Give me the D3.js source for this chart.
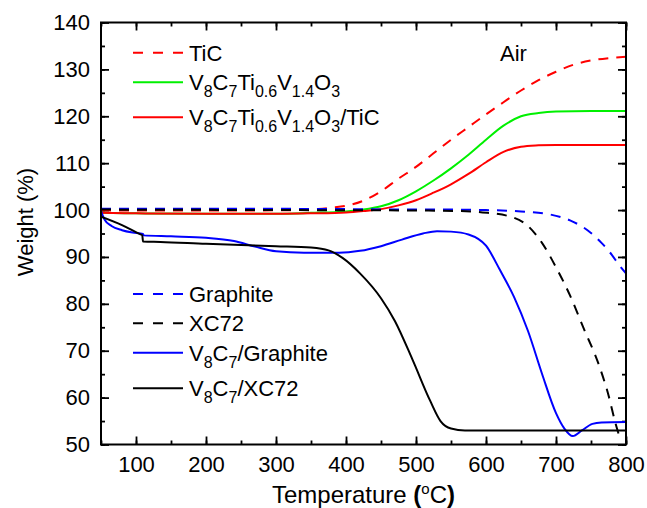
<!DOCTYPE html>
<html>
<head>
  <meta charset="UTF-8">
  <script src="https://d3js.org/d3.v7.min.js"></script>
  <style>
    body { margin: 0; background: #fff; }
    text { font-family: "Liberation Sans", Arial, sans-serif; fill: #000; }
    .axis line { stroke: #000; stroke-width: 1.8; }
    .axis .domain { stroke: none; }
  </style>
</head>
<body>
<svg id="chart" width="647" height="508"></svg>
<script>
  // data (temperature in oC, weight in %)
  const tic = [[50,99.9],[150,99.9],[250,99.9],[330,100.0],[360,100.2],[380,100.5],[400,100.9],[425,102.0],[450,104.0],[475,106.7],[500,109.2],[525,112.1],[550,115.0],[575,117.7],[600,120.4],[625,123.0],[650,125.5],[675,127.7],[700,129.5],[725,131.0],[750,131.9],[775,132.4],[800,132.7]];
  const v8c7TiVO = [[50,99.4],[100,99.3],[200,99.2],[300,99.2],[350,99.4],[400,99.7],[425,100.1],[450,100.8],[475,102.1],[500,104.0],[525,106.3],[550,108.9],[575,111.8],[600,115.0],[625,118.0],[650,120.0],[675,120.7],[700,121.0],[750,121.1],[800,121.1]];
  const v8c7TiVOTiC = [[50,99.4],[100,99.3],[200,99.2],[300,99.2],[350,99.3],[400,99.5],[425,99.8],[450,100.2],[475,101.0],[500,102.1],[525,103.7],[550,105.5],[575,107.7],[600,110.2],[625,112.4],[650,113.5],[675,113.8],[700,113.9],[800,113.9]];
  const graphite = [[50,100.3],[200,100.3],[400,100.2],[500,100.1],[550,100.1],[600,100.0],[650,99.7],[690,99.1],[720,97.8],[745,95.7],[765,93.0],[780,90.4],[790,88.3],[800,86.5]];
  const xc72 = [[50,100.1],[300,100.0],[500,99.9],[560,99.8],[595,99.5],[630,98.8],[660,96.6],[680,93.0],[700,87.8],[720,81.8],[740,74.6],[760,67.5],[775,60.5],[785,54.5],[791,51.5]];
  const v8c7Graphite = [[50,99.8],[55,98.0],[65,96.6],[80,95.7],[95,95.2],[110,94.9],[111,94.6],[150,94.4],[200,94.1],[240,93.4],[270,92.2],[300,91.2],[340,90.9],[390,90.9],[420,91.3],[450,92.3],[480,93.7],[510,95.0],[530,95.5],[550,95.4],[575,94.8],[600,92.4],[620,87.2],[640,81.5],[660,74.2],[680,65.1],[700,56.7],[712,53.4],[724,51.8],[737,53.0],[752,54.4],[765,54.7],[800,54.8]];
  const v8c7XC72 = [[50,98.6],[80,96.8],[105,94.9],[109,94.6],[110,93.3],[135,93.2],[200,92.8],[300,92.3],[350,92.0],[375,91.4],[395,89.8],[420,86.5],[450,81.2],[470,76.3],[495,68.1],[520,59.4],[535,55.0],[550,53.4],[570,53.0],[800,53.0]];

  const xTicks = [100, 200, 300, 400, 500, 600, 700, 800];
  const yTicks = [50, 60, 70, 80, 90, 100, 110, 120, 130, 140];

  // series: data, colour, dashed?, legend label parts ([text, subscript?])
  const series = [
    { data: tic, color: "#ff0000", dashed: true, label: [["TiC", 0]] },
    { data: v8c7TiVO, color: "#00f000", dashed: false, label: [["V",0],["8",1],["C",0],["7",1],["Ti",0],["0.6",1],["V",0],["1.4",1],["O",0],["3",1]] },
    { data: v8c7TiVOTiC, color: "#ff0000", dashed: false, label: [["V",0],["8",1],["C",0],["7",1],["Ti",0],["0.6",1],["V",0],["1.4",1],["O",0],["3",1],["/TiC",0]] },
    { data: graphite, color: "#0000ff", dashed: true, label: [["Graphite", 0]] },
    { data: xc72, color: "#000000", dashed: true, label: [["XC72", 0]] },
    { data: v8c7Graphite, color: "#0000ff", dashed: false, label: [["V",0],["8",1],["C",0],["7",1],["/Graphite",0]] },
    { data: v8c7XC72, color: "#000000", dashed: false, label: [["V",0],["8",1],["C",0],["7",1],["/XC72",0]] }
  ];

  const svg = d3.select("svg#chart");
  const plotL = 101, plotR = 626, plotT = 22.5, plotB = 444.5;

  const x = d3.scaleLinear().domain([50, 800]).range([plotL, plotR]);
  const y = d3.scaleLinear().domain([50, 140]).range([plotB, plotT]);

  const minorX = d3.range(50, 801, 50);
  const minorY = d3.range(50, 141, 5);

  // axes: ticks point inward on all four sides
  const addAxis = (axis, tx, ty) => svg.append("g").attr("class", "axis")
    .attr("transform", `translate(${tx},${ty})`).call(axis);

  addAxis(d3.axisBottom(x).tickValues(minorX).tickSize(-4).tickFormat(""), 0, plotB);
  addAxis(d3.axisTop(x).tickValues(minorX).tickSize(-4).tickFormat(""), 0, plotT);
  addAxis(d3.axisLeft(y).tickValues(minorY).tickSize(-4).tickFormat(""), plotL, 0);
  addAxis(d3.axisRight(y).tickValues(minorY).tickSize(-4).tickFormat(""), plotR, 0);

  addAxis(d3.axisBottom(x).tickValues(xTicks).tickSize(-8).tickSizeOuter(0).tickPadding(12), 0, plotB);
  addAxis(d3.axisTop(x).tickValues(xTicks).tickSize(-8).tickFormat(""), 0, plotT);
  addAxis(d3.axisLeft(y).tickValues(yTicks).tickSize(-8).tickSizeOuter(0).tickPadding(11), plotL, 0);
  addAxis(d3.axisRight(y).tickValues(yTicks).tickSize(-8).tickFormat(""), plotR, 0);

  svg.selectAll(".axis text").attr("font-size", "22px")
    .style("font-family", '"Liberation Sans", Arial, sans-serif');

  // clip curves to the plot frame
  svg.append("clipPath").attr("id", "clip")
    .append("rect").attr("x", plotL).attr("y", plotT)
    .attr("width", plotR - plotL).attr("height", plotB - plotT);

  const line = d3.line().x(d => x(d[0])).y(d => y(d[1])).curve(d3.curveMonotoneX);

  svg.append("g").attr("clip-path", "url(#clip)")
    .selectAll("path").data(series).join("path")
    .attr("d", d => line(d.data))
    .attr("fill", "none")
    .attr("stroke", d => d.color)
    .attr("stroke-width", 2)
    .attr("stroke-dasharray", d => d.dashed ? "10,8" : null);

  // frame
  svg.append("rect").attr("x", plotL).attr("y", plotT)
    .attr("width", plotR - plotL).attr("height", plotB - plotT)
    .attr("fill", "none").attr("stroke", "#000").attr("stroke-width", 2);

  // legends
  const legendY = [52.7, 82.3, 117.3, 294, 323.3, 352.7, 388.3];
  series.forEach((s, i) => {
    const ly = legendY[i];
    svg.append("line").attr("x1", 133).attr("x2", 183).attr("y1", ly).attr("y2", ly)
      .attr("stroke", s.color).attr("stroke-width", 2)
      .attr("stroke-dasharray", s.dashed ? "10,10" : null);
    const t = svg.append("text").attr("x", 189).attr("y", ly + 8).attr("font-size", "22px");
    let shifted = false;
    s.label.forEach(([txt, sub]) => {
      const sp = t.append("tspan").text(txt);
      if (sub) { sp.attr("font-size", "16px").attr("dy", shifted ? 0 : 7); shifted = true; }
      else { if (shifted) sp.attr("dy", -7); shifted = false; }
    });
  });

  svg.append("text").attr("x", 500).attr("y", 61).attr("font-size", "22px").text("Air");

  // axis titles
  svg.append("text").attr("transform", "translate(33,222) rotate(-90)")
    .attr("text-anchor", "middle").attr("font-size", "22px").text("Weight (%)");

  const xt = svg.append("text").attr("x", (plotL + plotR) / 2).attr("y", 503)
    .attr("text-anchor", "middle").attr("font-size", "24px");
  xt.append("tspan").text("Temperature ");
  xt.append("tspan").attr("font-weight", "bold").text("(");
  xt.append("tspan").attr("font-size", "15px").attr("dy", -9).text("o");
  xt.append("tspan").attr("dy", 9).text("C");
  xt.append("tspan").attr("font-weight", "bold").text(")");
</script>
</body>
</html>
